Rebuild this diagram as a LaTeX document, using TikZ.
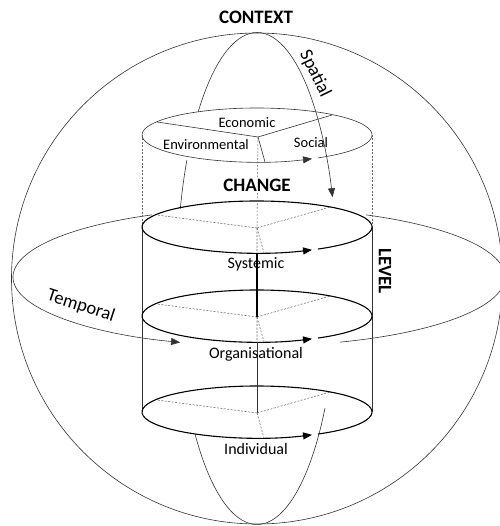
\documentclass[tikz,border=0pt]{standalone}
\usepackage{fontspec}
\setmainfont{Carlito}
\usetikzlibrary{arrows.meta}

\begin{document}
\begin{tikzpicture}[x=1pt,y=-1pt,
  orbit/.style={line width=0.6pt,black!80},
  disk/.style={line width=1.1pt},
  hidden/.style={line width=0.55pt,black!60,dash pattern=on 2pt off 1.5pt},
  tip/.style={-{Triangle[length=9pt,width=7pt]}},
  heading/.style={font=\fontsize{19}{19}\selectfont\bfseries},
  axis/.style={font=\fontsize{18.5}{18.5}\selectfont},
  lbl/.style={font=\fontsize{16}{16}\selectfont},
  sector/.style={font=\fontsize{14.5}{14.5}\selectfont}]
\useasboundingbox (0,0) rectangle (499,526);

% sphere, temporal and spatial orbits
\draw[orbit] (257,278.5) circle[radius=245.5];
\draw[orbit,tip] (259,277) ++(244.2:246 and 69) arc[start angle=244.2,end angle=108.7,x radius=246,y radius=69];
\draw[orbit] (259,277) ++(-64.2:246 and 69) arc[start angle=-64.2,end angle=70.8,x radius=246,y radius=69];
\draw[orbit,tip] (257,278.5) ++(-137.4:80 and 246) arc[start angle=-137.4,end angle=-19.3,x radius=80,y radius=246];
\draw[orbit] (257,278.5) ++(-151.2:80 and 246) arc[start angle=-151.2,end angle=-163.5,x radius=80,y radius=246];
\draw[orbit] (257,278.5) ++(31.8:80 and 246) arc[start angle=31.8,end angle=140.7,x radius=80,y radius=246];

% context disk
\coordinate (ctx) at (258,137);
\draw[orbit,tip] (257,135) ++(58:115 and 27) arc[start angle=58,end angle=-298.6,x radius=115,y radius=27];
\draw[orbit] (ctx) -- (157,122) (ctx) -- (332,115) (ctx) -- (265,162);

% change cylinder
\draw[hidden] (142,135) -- (142,227) (372,135) -- (372,227);
\draw[orbit] (142,227) -- (142,412) (372,227) -- (372,412);
\foreach \cy/\n in {227/sys,316/org,412/ind} {
  \coordinate (\n) at (257,\cy+1);
  \coordinate (\n-f) at (264,\cy+26);
  \coordinate (\n-b) at (257,\cy+26);
  \draw[hidden] (\n) -- (157,\cy-12) (\n) -- (330,\cy-20) (\n) -- (\n-f);
  \draw[disk,tip] (257,\cy) ++(58:115 and 26) arc[start angle=58,end angle=-298.6,x radius=115,y radius=26];
}
\draw[hidden] (ctx) -- (sys) (sys) -- (sys-b) (org) -- (org-b);
\draw[line width=1.3pt] (sys-b) -- (org);
\draw[orbit] (org-b) -- (ind);

% labels
\node[heading] (context) at (256,17) {CONTEXT};
\node[heading,fill=white,inner sep=1pt] (change) at (257,185) {CHANGE};
\node[heading,rotate=-90] (level) at (385,271) {LEVEL};
\node[axis,rotate=-64] (spatial) at (315,74) {Spatial};
\node[axis,rotate=-18] (temporal) at (81,306) {Temporal};
\node[sector] (economic) at (247,123) {Economic};
\node[sector] (environmental) at (206,145) {Environmental};
\node[sector] (social) at (311,143) {Social};
\node[lbl] (systemic) at (256,264) {Systemic};
\node[lbl] (organisational) at (256,354) {Organisational};
\node[lbl] (individual) at (256,449) {Individual};
\end{tikzpicture}
\end{document}
